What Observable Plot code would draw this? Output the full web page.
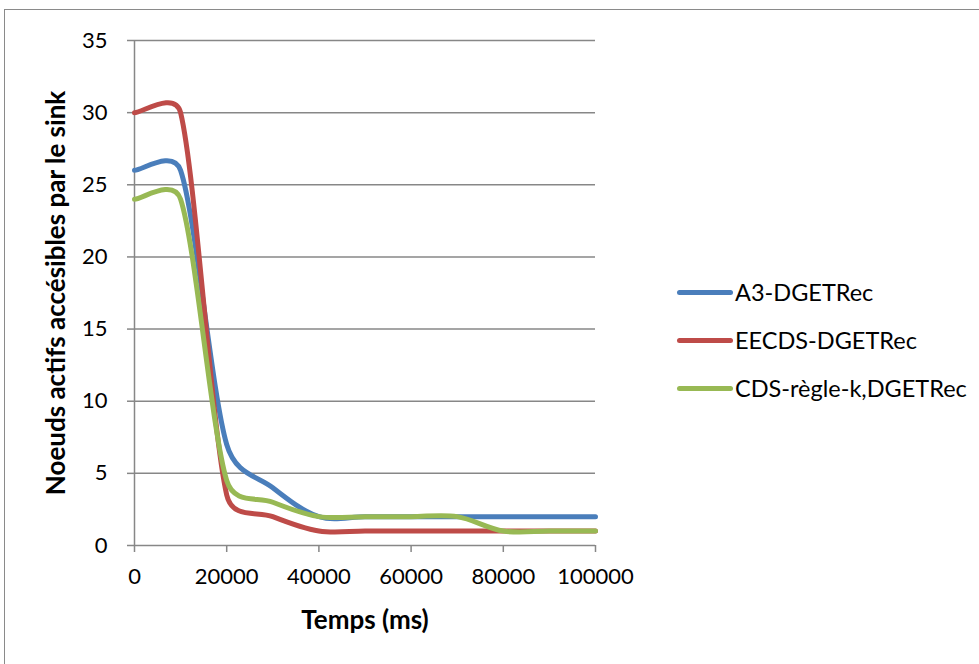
<!DOCTYPE html>
<html>
<head>
<meta charset="utf-8">
<script src="https://cdn.jsdelivr.net/npm/d3@7"></script>
<script src="https://cdn.jsdelivr.net/npm/@observablehq/plot@0.6"></script>
<style>
  body { margin: 0; background: #fff; }
  #wrap { position: relative; width: 979px; height: 664px; overflow: hidden; font-family: Lato, sans-serif; background:#fff; }
  #border { position: absolute; left: 4px; top: 9px; width: 1000px; height: 700px; border: 1.5px solid #8a8a8a; box-sizing: border-box; }
  #chart { position: absolute; left: 0; top: 0; }
  .item { position: absolute; left: 677px; height: 30px; display: flex; align-items: center; font-size: 23.5px; color: #000; white-space: nowrap; }
  .sw { width: 56px; height: 5px; border-radius: 2.5px; margin-right: 2px; }
</style>
</head>
<body>
<div id="wrap">
  <div id="border"></div>
  <div id="chart"></div>
  <div id="legend"></div>
</div>
<script>
// Data
const times = [0, 10000, 20000, 30000, 40000, 50000, 60000, 70000, 80000, 90000, 100000];
const a3Dgetrec = [26, 26, 7, 4, 2, 2, 2, 2, 2, 2, 2];
const eecdsDgetrec = [30, 30, 3.5, 2, 1, 1, 1, 1, 1, 1, 1];
const cdsRegleK = [24, 24, 4.5, 3, 2, 2, 2, 2, 1, 1, 1];
const seriesNames = ["A3-DGETRec", "EECDS-DGETRec", "CDS-règle-k,DGETRec"];
const seriesColors = ["#4A7EBB", "#BE4B48", "#98B954"];
const xTicks = [0, 20000, 40000, 60000, 80000, 100000];
const yTicks = [0, 5, 10, 15, 20, 25, 30, 35];
const xTitle = "Temps (ms)";
const yTitle = "Noeuds actifs accésibles par le sink";

const seriesValues = [a3Dgetrec, eecdsDgetrec, cdsRegleK];
const rows = [];
seriesValues.forEach((vals, i) => vals.forEach((v, j) => rows.push({s: seriesNames[i], t: times[j], v})));

// Spreadsheet-style smoothed line (Bezier with capped control arms)
function SmoothCurve(context) { this._context = context; }
SmoothCurve.prototype = {
  areaStart() { this._line = 0; },
  areaEnd() { this._line = NaN; },
  lineStart() { this._xs = []; this._ys = []; },
  point(x, y) { this._xs.push(+x); this._ys.push(+y); },
  lineEnd() {
    const x = this._xs, y = this._ys, n = x.length, c = this._context;
    if (n) {
      if (this._line) c.lineTo(x[0], y[0]); else c.moveTo(x[0], y[0]);
      for (let i = 0; i < n - 1; i++) {
        const i0 = Math.max(0, i - 1), i3 = Math.min(n - 1, i + 2);
        const d12 = Math.hypot(x[i + 1] - x[i], y[i + 1] - y[i]);
        const d02 = Math.hypot(x[i + 1] - x[i0], y[i + 1] - y[i0]);
        const d13 = Math.hypot(x[i3] - x[i], y[i3] - y[i]);
        const f1 = d02 > 0 ? Math.min(1 / 6, d12 / (2 * d02)) : 0;
        const f2 = d13 > 0 ? Math.min(1 / 6, d12 / (2 * d13)) : 0;
        c.bezierCurveTo(
          x[i] + (x[i + 1] - x[i0]) * f1, y[i] + (y[i + 1] - y[i0]) * f1,
          x[i + 1] - (x[i3] - x[i]) * f2, y[i + 1] - (y[i3] - y[i]) * f2,
          x[i + 1], y[i + 1]);
      }
    }
    if (this._line || (this._line !== 0 && n === 1)) c.closePath();
    this._line = 1 - this._line;
  }
};
const curveSmooth = context => new SmoothCurve(context);

const gridColor = "#878787";

const chart = Plot.plot({
  width: 979,
  height: 664,
  marginLeft: 134,
  marginRight: 384,
  marginTop: 40,
  marginBottom: 119,
  style: {fontFamily: "Lato, sans-serif", fontSize: "22px", color: "#000", background: "transparent"},
  x: {domain: [0, 100000]},
  y: {domain: [0, 35]},
  color: {domain: seriesNames, range: seriesColors},
  marks: [
    Plot.gridY(yTicks.filter(d => d > 0), {stroke: gridColor, strokeOpacity: 1, strokeWidth: 1.5}),
    Plot.ruleY([0], {stroke: gridColor, strokeWidth: 1.5}),
    Plot.ruleX([0], {stroke: gridColor, strokeWidth: 1.5}),
    Plot.axisY(yTicks, {tickSize: 7, tickPadding: 20, stroke: gridColor, strokeWidth: 1.5, fill: "#000", label: null, fontSize: 22}),
    Plot.axisX(xTicks, {tickSize: 7, tickPadding: 16, stroke: gridColor, strokeWidth: 1.5, fill: "#000", label: null, fontSize: 22, tickFormat: d => String(d)}),
    Plot.line(rows, {x: "t", y: "v", z: "s", stroke: "s", curve: curveSmooth, strokeWidth: 5}),
    Plot.text([xTitle], {frameAnchor: "bottom", lineAnchor: "middle", textAnchor: "middle", dy: 75, fontWeight: "bold", fontSize: 26, fill: "#000"}),
    Plot.text([yTitle], {frameAnchor: "left", lineAnchor: "middle", textAnchor: "middle", dx: -78, rotate: -90, fontWeight: "bold", fontSize: 26, fill: "#000"})
  ]
});
document.getElementById("chart").appendChild(chart);

const legend = document.getElementById("legend");
const legendY = [292, 340, 388];
seriesNames.forEach((name, i) => {
  const item = document.createElement("div");
  item.className = "item";
  item.style.top = (legendY[i] - 15) + "px";
  const sw = document.createElement("div");
  sw.className = "sw";
  sw.style.background = seriesColors[i];
  const label = document.createElement("span");
  label.textContent = name;
  item.appendChild(sw);
  item.appendChild(label);
  legend.appendChild(item);
});
</script>
</body>
</html>
